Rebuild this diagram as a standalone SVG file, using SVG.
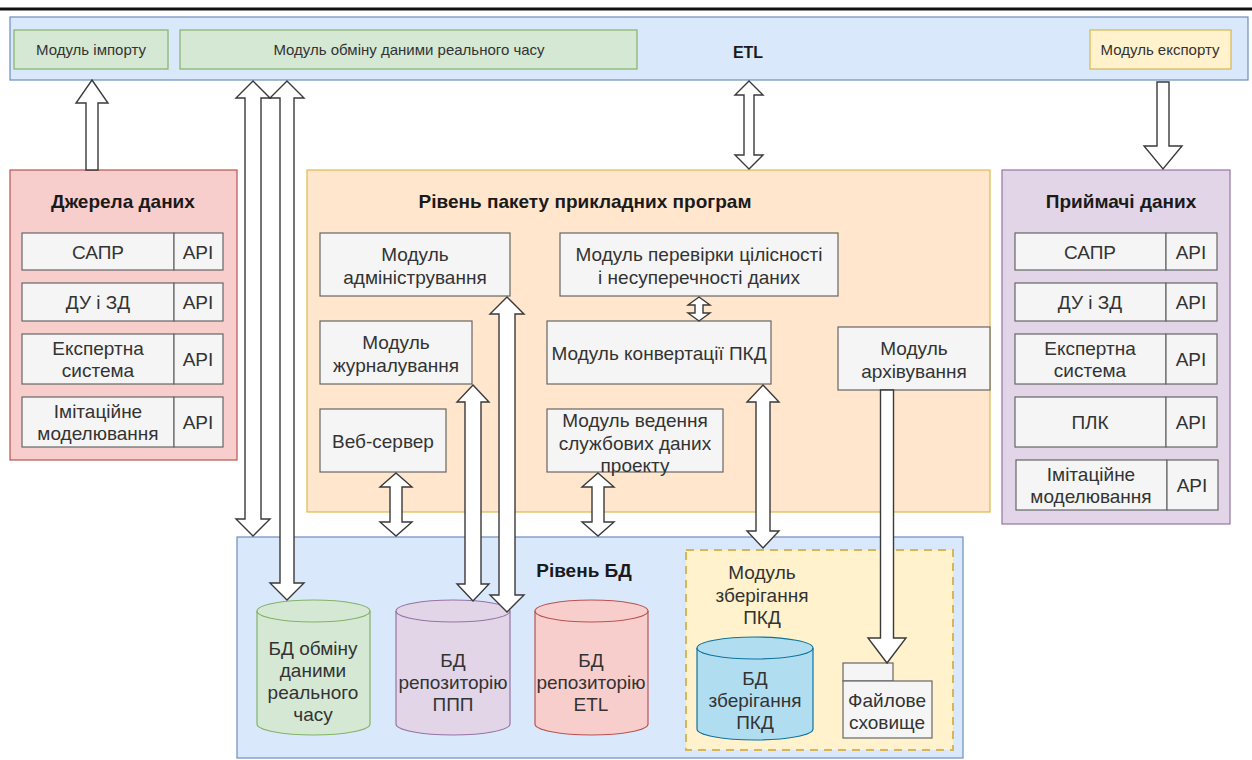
<svg xmlns="http://www.w3.org/2000/svg" width="1252" height="760" viewBox="0 0 1252 760">
  <style>
    text { font-family: "Liberation Sans", Arial, sans-serif; fill: #333333; text-anchor: middle; dominant-baseline: central; }
    .t { font-size: 19px; }
    .s { font-size: 15px; }
    .h { font-size: 19px; font-weight: bold; fill: #1a1a1a; }
    .mod { fill: #f5f5f5; stroke: #666666; stroke-width: 1.2; }
    .arrow { fill: #ffffff; stroke: #3a3a3a; stroke-width: 1.4; stroke-linejoin: miter; }
  </style>

  <!-- page rule -->
  <line x1="0" y1="9" x2="1252" y2="9" stroke="#111" stroke-width="3"/>

  <!-- ETL layer -->
  <g id="etl">
    <rect x="10" y="17" width="1238" height="63" fill="#dae8fc" stroke="#6c8ebf" stroke-width="1.2"/>
    <text class="h" x="748" y="52" style="font-size:16px">ETL</text>
  </g>
  <g id="import">
    <rect x="14" y="30" width="154" height="39" fill="#d5e8d4" stroke="#82b366" stroke-width="1.2"/>
    <text class="s" x="91" y="49">Модуль імпорту</text>
  </g>
  <g id="realtime">
    <rect x="180" y="30" width="457" height="39" fill="#d5e8d4" stroke="#82b366" stroke-width="1.2"/>
    <text class="s" x="409" y="49">Модуль обміну даними реального часу</text>
  </g>
  <g id="export">
    <rect x="1090" y="30" width="141" height="39" fill="#fff2cc" stroke="#d6b656" stroke-width="1.2"/>
    <text class="s" x="1160" y="49">Модуль експорту</text>
  </g>

  <!-- data sources -->
  <g id="sources">
    <rect x="10" y="170" width="227" height="290" fill="#f8cecc" stroke="#b85450" stroke-width="1.2"/>
    <text class="h" x="123" y="201">Джерела даних</text>
    <rect class="mod" x="22" y="233" width="152" height="37"/><rect class="mod" x="174" y="233" width="49" height="37"/>
    <text class="t" x="98" y="252">САПР</text><text class="t" x="198" y="252">API</text>
    <rect class="mod" x="22" y="283" width="152" height="38"/><rect class="mod" x="174" y="283" width="49" height="38"/>
    <text class="t" x="98" y="302">ДУ і ЗД</text><text class="t" x="198" y="302">API</text>
    <rect class="mod" x="22" y="334" width="152" height="50"/><rect class="mod" x="174" y="334" width="49" height="50"/>
    <text class="t" x="98" y="348">Експертна</text><text class="t" x="98" y="370">система</text><text class="t" x="198" y="359">API</text>
    <rect class="mod" x="22" y="397" width="152" height="50"/><rect class="mod" x="174" y="397" width="49" height="50"/>
    <text class="t" x="98" y="411">Імітаційне</text><text class="t" x="98" y="433">моделювання</text><text class="t" x="198" y="422">API</text>
  </g>

  <!-- application package layer -->
  <g id="app-layer">
    <rect x="307" y="170" width="683" height="342" fill="#ffe6cc" stroke="#e0b84a" stroke-width="1.2"/>
    <text class="h" x="585" y="201">Рівень пакету прикладних програм</text>
  </g>
  <g id="admin">
    <rect class="mod" x="320" y="233" width="190" height="63"/>
    <text class="t" x="415" y="254">Модуль</text><text class="t" x="415" y="277">адміністрування</text>
  </g>
  <g id="logging">
    <rect class="mod" x="320" y="321" width="152" height="63"/>
    <text class="t" x="396" y="342">Модуль</text><text class="t" x="396" y="365">журналування</text>
  </g>
  <g id="webserver">
    <rect class="mod" x="320" y="409" width="126" height="63"/>
    <text class="t" x="383" y="441">Веб-сервер</text>
  </g>
  <g id="integrity">
    <rect class="mod" x="560" y="233" width="278" height="63"/>
    <text class="t" x="699" y="254">Модуль перевірки цілісності</text><text class="t" x="699" y="277">і несуперечності даних</text>
  </g>
  <g id="convert">
    <rect class="mod" x="547" y="321" width="224" height="63"/>
    <text class="t" x="659" y="353">Модуль конвертації ПКД</text>
  </g>
  <g id="service-data">
    <rect class="mod" x="547" y="409" width="176" height="63"/>
    <text class="t" x="635" y="420">Модуль ведення</text><text class="t" x="635" y="443">службових даних</text><text class="t" x="635" y="465">проекту</text>
  </g>
  <g id="archive">
    <rect class="mod" x="838" y="327" width="152" height="63"/>
    <text class="t" x="914" y="348">Модуль</text><text class="t" x="914" y="371">архівування</text>
  </g>

  <!-- data receivers -->
  <g id="receivers">
    <rect x="1002" y="170" width="228" height="354" fill="#e1d5e7" stroke="#9673a6" stroke-width="1.2"/>
    <text class="h" x="1121" y="201">Приймачі даних</text>
    <rect class="mod" x="1015" y="233" width="151" height="37"/><rect class="mod" x="1166" y="233" width="51" height="37"/>
    <text class="t" x="1090" y="252">САПР</text><text class="t" x="1191" y="252">API</text>
    <rect class="mod" x="1015" y="283" width="151" height="38"/><rect class="mod" x="1166" y="283" width="51" height="38"/>
    <text class="t" x="1090" y="302">ДУ і ЗД</text><text class="t" x="1191" y="302">API</text>
    <rect class="mod" x="1015" y="334" width="151" height="50"/><rect class="mod" x="1166" y="334" width="51" height="50"/>
    <text class="t" x="1090" y="348">Експертна</text><text class="t" x="1090" y="370">система</text><text class="t" x="1191" y="359">API</text>
    <rect class="mod" x="1015" y="397" width="151" height="50"/><rect class="mod" x="1166" y="397" width="51" height="50"/>
    <text class="t" x="1090" y="422">ПЛК</text><text class="t" x="1191" y="422">API</text>
    <rect class="mod" x="1016" y="460" width="151" height="50"/><rect class="mod" x="1167" y="460" width="51" height="50"/>
    <text class="t" x="1091" y="474">Імітаційне</text><text class="t" x="1091" y="496">моделювання</text><text class="t" x="1192" y="485">API</text>
  </g>

  <!-- database layer -->
  <g id="db-layer">
    <rect x="237" y="537" width="726" height="221" fill="#dae8fc" stroke="#6c8ebf" stroke-width="1.2"/>
    <text class="h" x="584" y="570">Рівень БД</text>
  </g>
  <g id="db-realtime">
    <path d="M257,611 A56.5,11 0 0 1 370,611 L370,724 A56.5,11 0 0 1 257,724 Z" fill="#d5e8d4" stroke="#82b366" stroke-width="1.2"/>
    <path d="M257,611 A56.5,11 0 0 0 370,611" fill="none" stroke="#82b366" stroke-width="1.2"/>
    <text class="t" x="313" y="648">БД обміну</text><text class="t" x="313" y="670">даними</text><text class="t" x="313" y="692">реального</text><text class="t" x="313" y="714">часу</text>
  </g>
  <g id="db-app-repo">
    <path d="M396,611 A57,11 0 0 1 510,611 L510,724 A57,11 0 0 1 396,724 Z" fill="#e1d5e7" stroke="#9673a6" stroke-width="1.2"/>
    <path d="M396,611 A57,11 0 0 0 510,611" fill="none" stroke="#9673a6" stroke-width="1.2"/>
    <text class="t" x="453" y="660">БД</text><text class="t" x="453" y="682">репозиторію</text><text class="t" x="453" y="704">ППП</text>
  </g>
  <g id="db-etl-repo">
    <path d="M535,611 A56.5,11 0 0 1 648,611 L648,724 A56.5,11 0 0 1 535,724 Z" fill="#f8cecc" stroke="#b85450" stroke-width="1.2"/>
    <path d="M535,611 A56.5,11 0 0 0 648,611" fill="none" stroke="#b85450" stroke-width="1.2"/>
    <text class="t" x="591" y="660">БД</text><text class="t" x="591" y="682">репозиторію</text><text class="t" x="591" y="704">ETL</text>
  </g>
  <g id="storage-module">
    <rect x="686" y="550" width="267" height="200" fill="#fff2cc" stroke="#d6b656" stroke-width="2" stroke-dasharray="8 6"/>
    <text class="t" x="762" y="572">Модуль</text><text class="t" x="762" y="595">зберігання</text><text class="t" x="762" y="617">ПКД</text>
  </g>
  <g id="db-storage">
    <path d="M697,648 A58,11 0 0 1 813,648 L813,729 A58,11 0 0 1 697,729 Z" fill="#b1ddf0" stroke="#10739e" stroke-width="1.2"/>
    <path d="M697,648 A58,11 0 0 0 813,648" fill="none" stroke="#10739e" stroke-width="1.2"/>
    <text class="t" x="755" y="678">БД</text><text class="t" x="755" y="700">зберігання</text><text class="t" x="755" y="722">ПКД</text>
  </g>
  <g id="file-store">
    <rect class="mod" x="843" y="663" width="50" height="18"/>
    <rect class="mod" x="843" y="681" width="89" height="57"/>
    <text class="t" x="887" y="700">Файлове</text><text class="t" x="887" y="722">сховище</text>
  </g>

  <!-- connectors -->
  <g id="connectors">
    <polygon class="arrow" points="92,80 108,103 98,103 98,170 86,170 86,103 76,103"/>
    <polygon class="arrow" points="253,81 270,98 261,98 261,519 270,519 253,536 236,519 245,519 245,98 236,98"/>
    <polygon class="arrow" points="287,81 304,98 294,98 294,583 304,583 287,600 270,583 280,583 280,98 270,98"/>
    <polygon class="arrow" points="749,81 763,95 754,95 754,155 763,155 749,169 735,155 744,155 744,95 735,95"/>
    <polygon class="arrow" points="1157,82 1169,82 1169,146 1182,146 1163,169 1144,146 1157,146"/>
    <polygon class="arrow" points="396,473 412,487 402,487 402,522 412,522 396,536 380,522 390,522 390,487 380,487"/>
    <polygon class="arrow" points="473,385 489,402 481,402 481,584 489,584 473,601 457,584 465,584 465,402 457,402"/>
    <polygon class="arrow" points="507,297 524,314 515,314 515,595 524,595 507,612 490,595 499,595 499,314 490,314"/>
    <polygon class="arrow" points="598,473 614,487 604,487 604,522 614,522 598,536 582,522 592,522 592,487 582,487"/>
    <polygon class="arrow" points="699,297 710,305 703,305 703,313 710,313 699,321 688,313 695,313 695,305 688,305"/>
    <polygon class="arrow" points="763,385 779,402 770,402 770,531 779,531 763,548 747,531 756,531 756,402 747,402"/>
    <polygon class="arrow" points="880.5,390 893.5,390 893.5,638 906,638 887,663 868,638 880.5,638"/>
  </g>
</svg>
